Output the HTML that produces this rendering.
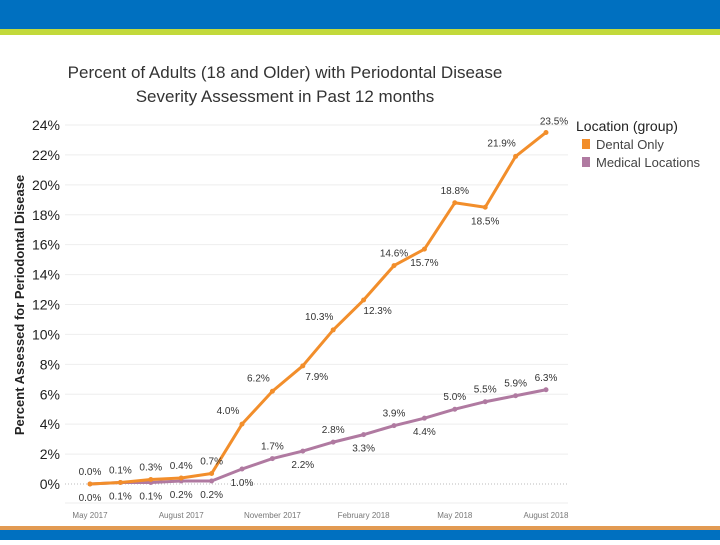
<!DOCTYPE html>
<html><head><meta charset="utf-8"><style>
body{margin:0;width:720px;height:540px;background:#fff;overflow:hidden;font-family:"Liberation Sans",sans-serif;}
</style></head><body>
<svg width="720" height="540" xmlns="http://www.w3.org/2000/svg">
<rect x="0" y="0" width="720" height="29" fill="#0070c0"/>
<rect x="0" y="29" width="720" height="6" fill="#c2d93b"/>
<rect x="0" y="526" width="720" height="4" fill="#e29a52"/>
<rect x="0" y="530" width="720" height="10" fill="#0070c0"/>
<text x="285" y="78" font-size="17" text-anchor="middle" fill="#333">Percent of Adults (18 and Older) with Periodontal Disease</text>
<text x="285" y="102" font-size="17" text-anchor="middle" fill="#333">Severity Assessment in Past 12 months</text>
<text transform="translate(24,305) rotate(-90)" font-size="13" font-weight="bold" text-anchor="middle" fill="#222">Percent Assessed for Periodontal Disease</text>
<text x="576" y="131" font-size="14" fill="#222">Location (group)</text>
<rect x="582" y="139" width="8" height="10" fill="#f28e2b"/>
<text x="596" y="149" font-size="13" fill="#444">Dental Only</text>
<rect x="582" y="157" width="8" height="10" fill="#b07aa1"/>
<text x="596" y="167" font-size="13" fill="#444">Medical Locations</text>
<g id="plot"></g>
</svg>
<script>
const months=["May 2017","Jun 2017","Jul 2017","August 2017","Sep 2017","Oct 2017","November 2017","Dec 2017","Jan 2018","February 2018","Mar 2018","Apr 2018","May 2018","Jun 2018","Jul 2018","August 2018"];
const dental=[0.0,0.1,0.3,0.4,0.7,4.0,6.2,7.9,10.3,12.3,14.6,15.7,18.8,18.5,21.9,23.5];
const medical=[0.0,0.1,0.1,0.2,0.2,1.0,1.7,2.2,2.8,3.3,3.9,4.4,5.0,5.5,5.9,6.3];
const yTicks=[0,2,4,6,8,10,12,14,16,18,20,22,24];
const xTickIdx=[0,3,6,9,12,15];
const dentalPos=["a","a","a","a","a","al","al","br","al","br","a","b","a","b","al","ar"];
const medicalPos=["b","b","b","b","b","b","a","b","a","b","a","b","a","a","a","a"];
const X=i=>90+i*(546-90)/(months.length-1);
const Y=v=>484-v*(484-125)/24;
const NS="http://www.w3.org/2000/svg";
const g=document.getElementById('plot');
function mk(t,a){const e=document.createElementNS(NS,t);for(const k in a)e.setAttribute(k,a[k]);g.appendChild(e);return e;}
yTicks.forEach(v=>{
  if(v>0){const l=mk('line',{x1:65,x2:568,y1:Y(v),y2:Y(v),stroke:'#eee','stroke-width':1});
  
  }
  const t=mk('text',{x:60,y:Y(v)+5,'font-size':14,'text-anchor':'end',fill:'#222'});t.textContent=v+'%';
  
  
});
const z=mk('line',{x1:65,x2:568,y1:Y(0),y2:Y(0),stroke:'#bbb','stroke-dasharray':'1,2'});


const bl=mk('line',{x1:65,x2:568,y1:503,y2:503,stroke:'#eee'});


xTickIdx.forEach(i=>{const t=mk('text',{x:X(i),y:518,'font-size':8,'text-anchor':'middle',fill:'#777'});t.textContent=months[i];
  
  });
function series(vals,pos,color,name){
  const p=mk('polyline',{points:vals.map((v,i)=>X(i)+','+Y(v)).join(' '),fill:'none',stroke:color,'stroke-width':3,'stroke-linejoin':'round'});
  
  
  vals.forEach((v,i)=>{
    const c=mk('circle',{cx:X(i),cy:Y(v),r:2.5,fill:color});
    
    
    const ps=pos[i];let dx=0,dy=-9,anc='middle';
    if(ps==='b')dy=17;
    if(ps==='al'){dx=-14;dy=-10;}
    if(ps==='br'){dx=14;dy=14;}
    if(ps==='ar'){dx=8;dy=-8;}
    const t=mk('text',{x:X(i)+dx,y:Y(v)+dy,'font-size':10,'text-anchor':anc,fill:'#333'});
    t.textContent=v.toFixed(1)+'%';
    
    
  });
}
series(medical,medicalPos,'#b07aa1','medical');
series(dental,dentalPos,'#f28e2b','dental');
</script>
</body></html>
